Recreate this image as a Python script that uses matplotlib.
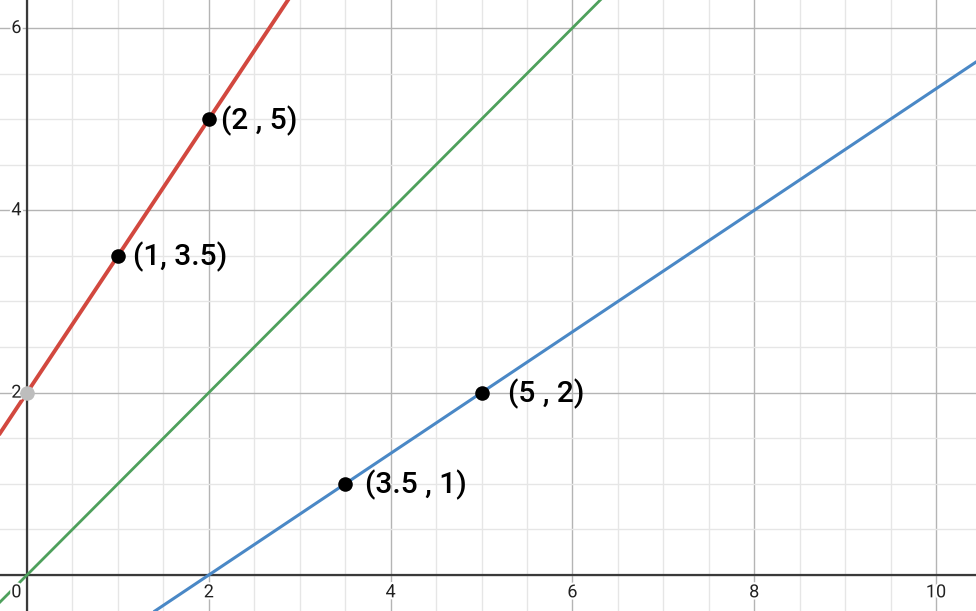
import matplotlib
matplotlib.use("Agg")
import matplotlib.pyplot as plt
from matplotlib.ticker import MultipleLocator
import matplotlib.patheffects as pe

# ── data ──────────────────────────────────────────────────────────────────────
red_x   = [1, 2]
red_y   = [3.5, 5]
green_x = [0, 6]
green_y = [0, 6]
blue_x  = [3.5, 5]
blue_y  = [1, 2]

pt_x      = [2, 1, 5, 3.5]
pt_y      = [5, 3.5, 2, 1]
pt_labels = ["(2 , 5)", "(1, 3.5)", "(5 , 2)", "(3.5 , 1)"]
pt_dx     = [9, 11, 19, 14]          # label offsets (points)

intercept_x = [0]
intercept_y = [2]

x_ticks = [2, 4, 6, 8, 10]
y_ticks = [2, 4, 6]

XLIM = (-0.297, 10.44)
YLIM = (-0.395, 6.307)

# ── figure ────────────────────────────────────────────────────────────────────
fig = plt.figure(figsize=(9.76, 6.11), dpi=100)
ax = fig.add_axes([0, 0, 1, 1])
ax.set_xlim(*XLIM)
ax.set_ylim(*YLIM)

# grid: light every 0.5, darker every 2
ax.xaxis.set_major_locator(MultipleLocator(2))
ax.yaxis.set_major_locator(MultipleLocator(2))
ax.xaxis.set_minor_locator(MultipleLocator(0.5))
ax.yaxis.set_minor_locator(MultipleLocator(0.5))
ax.grid(which="minor", color="#e6e6e6", linewidth=1.0, zorder=0)
ax.grid(which="major", color="#b4b4b4", linewidth=1.0, zorder=0)
ax.tick_params(which="both", length=0, labelbottom=False, labelleft=False)
for spine in ax.spines.values():
    spine.set_visible(False)
ax.set_axisbelow(True)

# axes
ax.axhline(0, color="#3a3a3a", linewidth=1.6, zorder=1)
ax.axvline(0, color="#3a3a3a", linewidth=1.6, zorder=1)

# lines
ax.axline((red_x[0], red_y[0]), (red_x[1], red_y[1]),
          color="#d2483f", linewidth=2.8, zorder=2)
ax.axline((green_x[0], green_y[0]), (green_x[1], green_y[1]),
          color="#4ea05c", linewidth=2.0, zorder=2)
ax.axline((blue_x[0], blue_y[0]), (blue_x[1], blue_y[1]),
          color="#4a88c6", linewidth=2.2, zorder=2)

# tick labels
halo = [pe.withStroke(linewidth=3, foreground="white")]
for xv in x_ticks:
    ax.annotate(str(xv), (xv, 0), xytext=(0, -6), textcoords="offset points",
                ha="center", va="top", fontsize=13, family="Roboto",
                color="#222222", path_effects=halo, zorder=3)
for yv in y_ticks:
    ax.annotate(str(yv), (0, yv), xytext=(-4, 0), textcoords="offset points",
                ha="right", va="center", fontsize=13, family="Roboto",
                color="#222222", path_effects=halo, zorder=3)
ax.annotate("0", (0, 0), xytext=(-4, -6), textcoords="offset points",
            ha="right", va="top", fontsize=13, family="Roboto",
            color="#222222", path_effects=halo, zorder=3)

# points
ax.scatter(intercept_x, intercept_y, s=110, color="#bdbdbd", zorder=4,
           linewidths=0)
ax.scatter(pt_x, pt_y, s=110, color="black", zorder=5, linewidths=0)
for x, y, lab, dx in zip(pt_x, pt_y, pt_labels, pt_dx):
    ax.annotate(lab, (x, y), xytext=(dx, -1), textcoords="offset points",
                ha="left", va="center", fontsize=21.5, family="Roboto",
                fontweight="medium", color="black", zorder=6)

plt.savefig("out.png", dpi=100)
plt.close()
